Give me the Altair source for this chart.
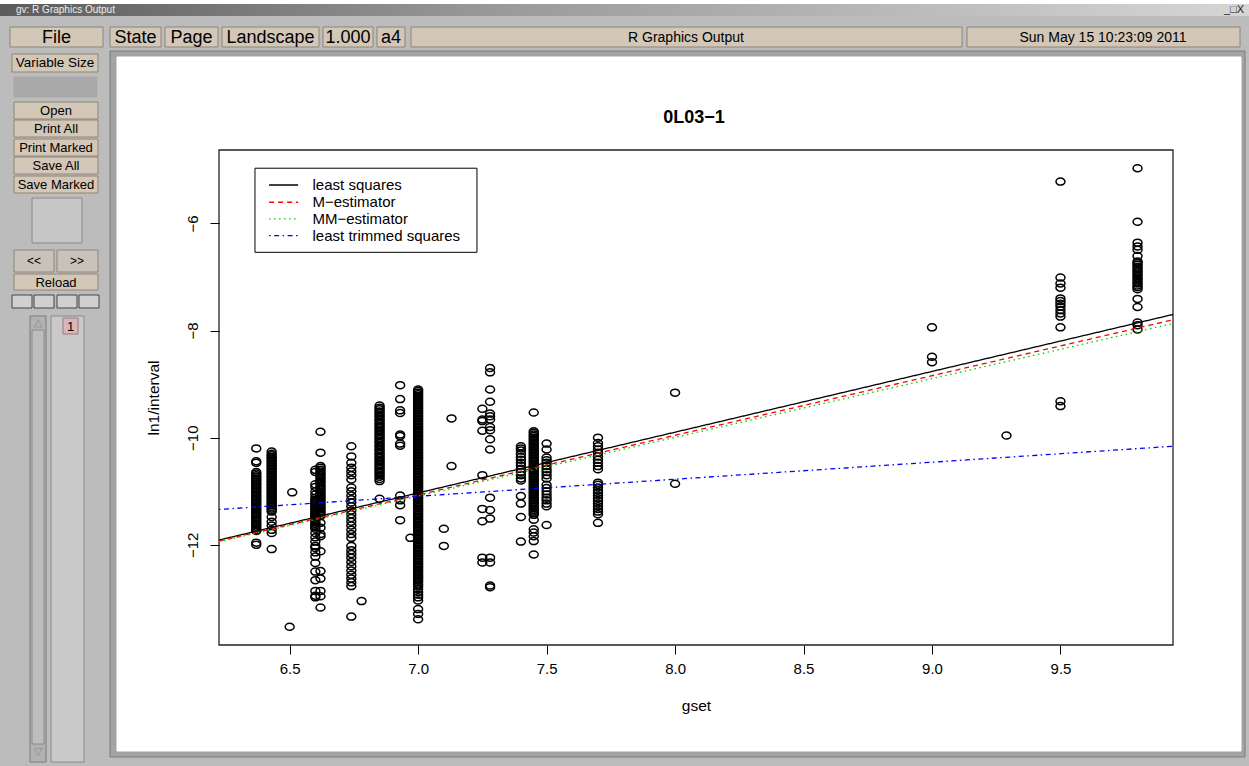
import altair as alt
import pandas as pd

# ------------------------------------------------------------------
# Data (gset vs ln1/interval)
# ------------------------------------------------------------------
col_x = [6.37, 6.43, 6.60, 6.62, 6.74, 6.85, 6.93, 7.00, 7.25, 7.28,
         7.40, 7.45, 7.50, 7.70, 8.00, 9.00, 9.50, 9.80]

y_637 = [-10.20, -10.44, -10.47,
         -10.64, -10.67, -10.70, -10.73, -10.76, -10.79, -10.82, -10.85, -10.88,
         -10.91, -10.94, -10.97, -11.00, -11.03, -11.06, -11.09, -11.12, -11.15,
         -11.18, -11.21, -11.24, -11.27, -11.30, -11.33, -11.36, -11.39, -11.42,
         -11.45, -11.48, -11.51, -11.54, -11.57, -11.60, -11.63, -11.66, -11.69,
         -11.72, -11.74, -11.96, -12.00]
y_643 = [-10.26, -10.30, -10.33, -10.36, -10.39, -10.42, -10.45, -10.48, -10.51,
         -10.54, -10.57, -10.60, -10.63, -10.66, -10.69, -10.72, -10.75, -10.78,
         -10.81, -10.84, -10.87, -10.90, -10.93, -10.96, -10.99, -11.02, -11.05,
         -11.08, -11.11, -11.14, -11.17, -11.20, -11.23, -11.26, -11.29, -11.32,
         -11.35, -11.38, -11.48, -11.57, -11.64, -11.72, -11.78, -12.08]
y_660 = [-10.60, -10.64, -10.87, -10.92, -11.00, -11.06, -11.12,
         -11.16, -11.19, -11.22, -11.25, -11.28, -11.31, -11.34, -11.37, -11.40,
         -11.43, -11.46, -11.49, -11.52, -11.55, -11.58, -11.61, -11.64, -11.67,
         -11.70, -11.78, -11.86, -11.94, -12.02, -12.06, -12.14, -12.22, -12.34,
         -12.50, -12.66, -12.86, -12.95, -12.98]
y_662 = [-9.89, -10.28,
         -10.53, -10.56, -10.60, -10.63, -10.67, -10.70, -10.74, -10.77, -10.81,
         -10.84, -10.88, -10.91, -10.95, -10.98, -11.02, -11.05, -11.09, -11.12,
         -11.16, -11.19, -11.23, -11.26, -11.30, -11.33, -11.37, -11.40, -11.44,
         -11.46, -11.59, -11.68, -11.80, -11.84, -12.12, -12.49, -12.63, -12.86,
         -12.96, -13.17]
y_674 = [-10.16, -10.35, -10.47, -10.56, -10.63, -10.70, -10.78, -10.93, -11.00,
         -11.08, -11.15, -11.21, -11.28, -11.36, -11.43, -11.50, -11.57, -11.64,
         -11.72, -11.80, -11.87, -12.02, -12.10, -12.17, -12.24, -12.32, -12.40,
         -12.48, -12.56, -12.63, -12.70, -12.77, -13.34]
y_685 = [-9.40, -9.44, -9.47, -9.51, -9.54, -9.58, -9.61, -9.65, -9.68, -9.72,
         -9.75, -9.79, -9.82, -9.86, -9.89, -9.93, -9.96, -10.00, -10.03, -10.07,
         -10.10, -10.14, -10.17, -10.21, -10.24, -10.28, -10.31, -10.35, -10.38,
         -10.42, -10.45, -10.49, -10.52, -10.56, -10.59, -10.63, -10.66, -10.70,
         -10.73, -10.77, -10.81, -11.14]
y_693 = [-9.02, -9.28, -9.49, -9.54, -9.94, -9.97, -10.11, -10.15, -11.08, -11.17,
         -11.26, -11.54]
y_700 = [-9.10, -9.13, -9.16, -9.19, -9.22, -9.25, -9.28, -9.31, -9.34, -9.37,
         -9.40, -9.43, -9.46, -9.49, -9.52, -9.55, -9.58, -9.61, -9.64, -9.67,
         -9.70, -9.73, -9.76, -9.79, -9.82, -9.85, -9.88, -9.91, -9.94, -9.97,
         -10.00, -10.03, -10.06, -10.09, -10.12, -10.15, -10.18, -10.21, -10.24, -10.27,
         -10.30, -10.33, -10.36, -10.39, -10.42, -10.45, -10.48, -10.51, -10.54, -10.57,
         -10.60, -10.63, -10.66, -10.69, -10.72, -10.75, -10.78, -10.81, -10.84, -10.87,
         -10.90, -10.93, -10.96, -10.99, -11.02, -11.05, -11.08, -11.11, -11.14, -11.17,
         -11.20, -11.23, -11.26, -11.29, -11.32, -11.35, -11.38, -11.41, -11.44, -11.47,
         -11.50, -11.53, -11.56, -11.59, -11.62, -11.65, -11.68, -11.71, -11.74, -11.77,
         -11.80, -11.83, -11.86, -11.89, -11.92, -11.95, -11.98, -12.01, -12.04, -12.07,
         -12.10, -12.13, -12.16, -12.19, -12.22, -12.25, -12.28, -12.31, -12.34, -12.37,
         -12.40, -12.43, -12.46, -12.49, -12.52, -12.55, -12.58, -12.61, -12.64, -12.67,
         -12.70, -12.74, -12.78, -12.83, -12.88, -12.93, -12.98, -13.04, -13.20,
         -13.29, -13.39]
y_725 = [-9.46, -9.66, -9.69, -9.87, -10.70, -11.33, -11.56, -12.24, -12.33]
y_728 = [-8.70, -8.78, -9.10, -9.33, -9.55, -9.60, -9.66, -9.80, -9.86, -10.03,
         -10.22, -11.12, -11.35, -11.51, -12.24, -12.33, -12.76, -12.79]
y_740 = [-10.16, -10.20, -10.24, -10.30, -10.36, -10.41, -10.47, -10.52, -10.58,
         -10.64, -10.70, -10.76, -10.80, -11.09, -11.23, -11.48, -11.94]
y_745 = [-9.53, -9.88, -9.91, -9.94, -9.97, -10.00, -10.03, -10.06, -10.09, -10.12,
         -10.15, -10.18, -10.21, -10.24, -10.27, -10.30, -10.33, -10.36, -10.39,
         -10.42, -10.45, -10.48, -10.51, -10.54, -10.57, -10.60, -10.63, -10.66,
         -10.69, -10.72, -10.75, -10.78, -10.81, -10.84, -10.87, -10.90, -10.93,
         -10.96, -10.99, -11.02, -11.05, -11.08, -11.11, -11.14, -11.17, -11.20,
         -11.23, -11.26, -11.29, -11.32, -11.35, -11.38, -11.41, -11.44, -11.53,
         -11.71, -11.77, -11.84, -11.93, -12.18]
y_750 = [-10.11, -10.22, -10.37, -10.42, -10.47, -10.53, -10.59, -10.64, -10.70,
         -10.76, -10.88, -10.94, -11.00, -11.06, -11.12, -11.17, -11.23, -11.28,
         -11.63]
y_770 = [-10.00, -10.10, -10.16, -10.22, -10.28, -10.35, -10.41, -10.47, -10.53,
         -10.59, -10.84, -10.88, -10.93, -10.98, -11.03, -11.08, -11.13, -11.18,
         -11.23, -11.28, -11.33, -11.38, -11.43, -11.59]
y_800 = [-9.16, -10.86]
y_900 = [-7.94, -8.49, -8.59]
y_950 = [-5.22, -7.01, -7.12, -7.20, -7.40, -7.45, -7.50, -7.55, -7.62, -7.68,
         -7.74, -7.94, -9.32, -9.41]
y_980 = [-4.97, -5.97, -6.36, -6.43, -6.49, -6.61, -6.71, -6.74, -6.77, -6.81,
         -6.84, -6.88, -6.91, -6.95, -6.98, -7.02, -7.05, -7.09, -7.12, -7.16,
         -7.19, -7.23, -7.41, -7.56, -7.85, -7.90, -7.98]
col_y = [y_637, y_643, y_660, y_662, y_674, y_685, y_693, y_700, y_725, y_728,
         y_740, y_745, y_750, y_770, y_800, y_900, y_950, y_980]

single_x = [6.51, 6.50, 6.78, 6.97, 7.13, 7.13, 7.10, 7.10, 9.29]
single_y = [-11.02, -13.53, -13.05, -11.87, -9.64, -10.53, -11.70, -12.02, -9.96]

# fitted lines (end points read at the plot edges)
methods = ["least squares", "M\u2212estimator", "MM\u2212estimator", "least trimmed squares"]
line_colors = ["#000000", "#ff0000", "#00cd00", "#0000ff"]
line_dashes = [[1, 0], [5, 4], [1.5, 3.5], [1.5, 3.5, 5, 3.5]]
line_x = [6.225, 9.938]
ls_y = [-11.91, -7.70]
m_y = [-11.93, -7.80]
mm_y = [-11.94, -7.87]
lts_y = [-11.34, -10.16]

plot_title = "0L03\u22121"

# ------------------------------------------------------------------
# Layout
# ------------------------------------------------------------------
CW, CH = 1249, 766
LEFT, TOP = 219, 150
W, H = 954, 495
FONT = "Liberation Sans, Arial, Helvetica, sans-serif"
NARROW = "Liberation Sans Narrow, Liberation Sans, Arial, sans-serif"

xs = alt.Scale(domain=[6.225, 9.938], nice=False, zero=False)
ys = alt.Scale(domain=[-13.87, -4.63], nice=False, zero=False)

# ---------------- scatter ----------------
px, py = [], []
for cx, vals in zip(col_x, col_y):
    for v in vals:
        px.append(cx)
        py.append(v)
px += single_x
py += single_y
pts = pd.DataFrame({"gset": px, "val": py})

x_axis = alt.Axis(values=[6.5, 7.0, 7.5, 8.0, 8.5, 9.0, 9.5], format=".1f",
                  title="gset", grid=False, domain=False, tickSize=9,
                  tickColor="#000", tickWidth=1, labelColor="#000",
                  labelFontSize=15, labelFont=FONT, labelPadding=7,
                  titleFont=FONT, titleFontSize=15.5, titleFontWeight="normal",
                  titleColor="#000", titleX=W / 2, titleY=60,
                  titleBaseline="middle", titleAlign="center", zindex=1)
y_axis = alt.Axis(values=[-12, -10, -8, -6], format="d", title="ln1/interval",
                  grid=False, domain=False, tickSize=9, tickColor="#000",
                  tickWidth=1, labelColor="#000", labelFontSize=15,
                  labelFont=FONT, labelAngle=270, labelAlign="center",
                  labelBaseline="bottom", labelPadding=10, titleFont=FONT,
                  titleFontSize=15.5, titleFontWeight="normal", titleColor="#000",
                  titleAngle=270, titleX=-66, titleY=H / 2,
                  titleBaseline="middle", titleAlign="center", zindex=1)

ellipse = "M-1,0A1,0.78,0,1,1,1,0A1,0.78,0,1,1,-1,0Z"
scatter = alt.Chart(pts).mark_point(shape=ellipse, filled=False, size=80,
                                    strokeWidth=1.5, color="#000", opacity=1).encode(
    x=alt.X("gset:Q", scale=xs, axis=x_axis),
    y=alt.Y("val:Q", scale=ys, axis=y_axis),
)

# ---------------- lines ----------------
lrows = []
for name, yy in zip(methods, [ls_y, m_y, mm_y, lts_y]):
    for xv, yv in zip(line_x, yy):
        lrows.append({"method": name, "gset": xv, "val": yv})
lines_df = pd.DataFrame(lrows)
color_scale = alt.Scale(domain=methods, range=line_colors)
dash_scale = alt.Scale(domain=methods, range=line_dashes)
lines = alt.Chart(lines_df).mark_line(strokeWidth=1.3).encode(
    x=alt.X("gset:Q", scale=xs),
    y=alt.Y("val:Q", scale=ys),
    color=alt.Color("method:N", scale=color_scale, legend=None),
    strokeDash=alt.StrokeDash("method:N", scale=dash_scale, legend=None),
)

# ---------------- legend (placed in user coordinates, like R) ----------------
leg_box_x = [6.365, 7.229]
leg_box_y = [-4.97, -6.54]
leg_row_y = [-5.283, -5.605, -5.916, -6.227]
leg_sample_x = [6.420, 6.533]
leg_text_x = 6.589

leg_box = alt.Chart(pd.DataFrame({"x0": [leg_box_x[0]], "x1": [leg_box_x[1]],
                                  "y0": [leg_box_y[0]], "y1": [leg_box_y[1]]})
                    ).mark_rect(fill="#ffffff", stroke="#000", strokeWidth=1).encode(
    x=alt.X("x0:Q", scale=xs), x2="x1:Q",
    y=alt.Y("y0:Q", scale=ys), y2="y1:Q")
leg_df = pd.DataFrame({"method": methods, "ry": leg_row_y,
                       "sx0": [leg_sample_x[0]] * 4, "sx1": [leg_sample_x[1]] * 4,
                       "tx": [leg_text_x] * 4})
leg_lines = alt.Chart(leg_df).mark_rule(strokeWidth=1.3).encode(
    x=alt.X("sx0:Q", scale=xs), x2="sx1:Q",
    y=alt.Y("ry:Q", scale=ys),
    color=alt.Color("method:N", scale=color_scale, legend=None),
    strokeDash=alt.StrokeDash("method:N", scale=dash_scale, legend=None))
leg_text = alt.Chart(leg_df).mark_text(align="left", baseline="middle", fontSize=15,
                                       font=FONT, color="#000").encode(
    x=alt.X("tx:Q", scale=xs), y=alt.Y("ry:Q", scale=ys), text="method:N")

# ---------------- plot frame ----------------
frame = alt.Chart(pd.DataFrame({"a": [0]})).mark_rect(
    fill=None, stroke="#222", strokeWidth=1.3).encode(
    x=alt.value(0), x2=alt.value(W), y=alt.value(0), y2=alt.value(H))

# ---------------- gv window chrome (pixels of the window) ----------------
BEIGE, BEDGE = "#d3c7b7", "#8e8578"
boxes = [
    # x0, x1, y0, y1, fill, stroke
    (0, 1249, 0, 4, "#ffffff", "#ffffff"),
    (110, 1245, 51, 757, "#a3a3a3", "#7c7c7c"),
    (117, 1241, 57, 751, "#ffffff", "#ffffff"),
    (10, 103, 27, 47, BEIGE, BEDGE),
    (110, 161, 27, 47, BEIGE, BEDGE),
    (165, 218, 27, 47, BEIGE, BEDGE),
    (222, 319, 27, 47, BEIGE, BEDGE),
    (323, 373, 27, 47, BEIGE, BEDGE),
    (377, 405, 27, 47, BEIGE, BEDGE),
    (411, 962, 27, 47, BEIGE, BEDGE),
    (967, 1240, 27, 47, BEIGE, BEDGE),
    (12, 98, 54, 72, BEIGE, BEDGE),
    (14, 97, 77, 97, "#a9a9a9", "#a9a9a9"),
    (14, 98, 102, 119, BEIGE, BEDGE),
    (14, 98, 120, 137, BEIGE, BEDGE),
    (14, 98, 139, 156, BEIGE, BEDGE),
    (14, 98, 157, 174, BEIGE, BEDGE),
    (14, 98, 176, 193, BEIGE, BEDGE),
    (32, 82, 198, 243, "#c6c6c6", "#8a8a8a"),
    (14, 54, 250, 272, "#c9c2ba", BEDGE),
    (57, 98, 250, 272, "#c9c2ba", BEDGE),
    (14, 98, 274, 290, BEIGE, BEDGE),
    (12, 32, 295, 308, "#d0d0d0", "#444444"),
    (34, 54, 295, 308, "#d0d0d0", "#444444"),
    (57, 77, 295, 308, "#d0d0d0", "#444444"),
    (79, 99, 295, 308, "#d0d0d0", "#444444"),
    (30, 46, 316, 762, "#b2b2b2", "#7a7a7a"),
    (32, 44, 330, 744, "#bdbdbd", "#8a8a8a"),
    (51, 84, 316, 762, "#c9c9c9", "#8a8a8a"),
    (63, 78, 318, 334, "#dab6ba", "#9a7a7e"),
]
cb = pd.DataFrame({
    "x0": [b[0] - LEFT for b in boxes], "x1": [b[1] - LEFT for b in boxes],
    "y0": [b[2] - TOP for b in boxes], "y1": [b[3] - TOP for b in boxes],
    "fill": [b[4] for b in boxes], "stroke": [b[5] for b in boxes],
})
chrome_rects = alt.Chart(cb).mark_rect(strokeWidth=1).encode(
    x=alt.X("x0:Q", scale=None, axis=None), x2="x1:Q",
    y=alt.Y("y0:Q", scale=None, axis=None), y2="y1:Q",
    fill=alt.Fill("fill:N", scale=None), stroke=alt.Stroke("stroke:N", scale=None))

titlebar = alt.Chart(pd.DataFrame({"a": [0]})).mark_rect(
    fill=alt.Gradient(gradient="linear", x1=0, x2=1, y1=0, y2=0,
                      stops=[alt.GradientStop(color="#5c5c5c", offset=0),
                             alt.GradientStop(color="#9a9a9a", offset=0.4),
                             alt.GradientStop(color="#d6d6d6", offset=1)])).encode(
    x=alt.value(-LEFT), x2=alt.value(CW - LEFT), y=alt.value(4 - TOP), y2=alt.value(16 - TOP))


def text_layer(items, font, weight="normal", color="#000", align="center"):
    df = pd.DataFrame({"label": [t[0] for t in items],
                       "x": [t[1] - LEFT for t in items],
                       "y": [t[2] - TOP for t in items],
                       "s": [t[3] for t in items]})
    return alt.Chart(df).mark_text(font=font, fontWeight=weight, color=color,
                                   align=align, baseline="middle").encode(
        x=alt.X("x:Q", scale=None, axis=None), y=alt.Y("y:Q", scale=None, axis=None),
        text="label:N", size=alt.Size("s:Q", scale=None, legend=None))


bar_text = text_layer([("gv: R Graphics Output", 16, 9.5, 10)], NARROW,
                      color="#eeeeee", align="left")
win_btn = text_layer([("_\u25a1X", 1234, 9.5, 11)], FONT, color="#222")
tool_narrow = text_layer([("File", 56.5, 37.5, 18), ("State", 135.5, 37.5, 18),
                          ("Page", 191.5, 37.5, 18), ("Landscape", 270.5, 37.5, 18),
                          ("1.000", 348, 37.5, 18), ("a4", 391, 37.5, 18),
                          ("Variable Size", 55, 63, 13.5)], NARROW)
tool_norm = text_layer([("R Graphics Output", 686, 37.5, 14),
                        ("Sun May 15 10:23:09 2011", 1103, 37.5, 14),
                        ("Open", 56, 111, 13), ("Print All", 56, 129, 13),
                        ("Print Marked", 56, 148, 13), ("Save All", 56, 166, 13),
                        ("Save Marked", 56, 185, 13), ("<<", 34, 261, 12),
                        (">>", 77, 261, 12), ("Reload", 56, 282.5, 13),
                        ("1", 70.5, 326.5, 13)], FONT)
arrows = text_layer([("\u25b3", 38, 323, 11), ("\u25bd", 38, 752, 11)], FONT,
                    color="#8a8a8a")
title_text = text_layer([(plot_title, 694, 118, 18)], FONT, weight="bold")

# ---------------- assemble ----------------
chart = alt.layer(
    chrome_rects, titlebar, bar_text, win_btn, tool_narrow, tool_norm, arrows,
    title_text, frame, scatter, lines, leg_box, leg_lines, leg_text,
).properties(
    width=W, height=H,
    padding={"left": LEFT, "top": TOP, "right": CW - LEFT - W, "bottom": CH - TOP - H},
    autosize=alt.AutoSizeParams(type="none"),
    background="#bcbcbc",
).configure_view(stroke=None, fill=None)

chart.save("out.html", embed_options={"renderer": "svg", "actions": False})
